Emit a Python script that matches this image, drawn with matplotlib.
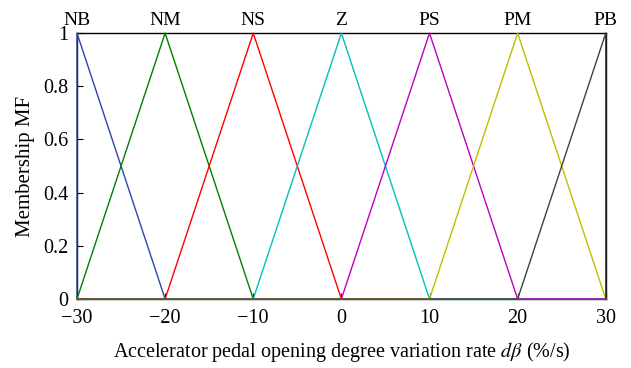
import numpy as np
import matplotlib
matplotlib.use("Agg")
import matplotlib.pyplot as plt

# fuzzy set names and triangle breakpoints (left, peak, right)
names = ["NB", "NM", "NS", "Z", "PS", "PM", "PB"]
lefts = [-30, -30, -20, -10, 0, 10, 20]
peaks = [-30, -20, -10, 0, 10, 20, 30]
rights = [-20, -10, 0, 10, 20, 30, 30]
colors = ["#2a46a6", "#007f00", "#ff0000", "#00bfbf", "#bf00bf", "#bfbf00", "#404040"]

x_ticks = [-30, -20, -10, 0, 10, 20, 30]
y_ticks = [0, 0.2, 0.4, 0.6, 0.8, 1]
y_tick_labels = ["0", "0.2", "0.4", "0.6", "0.8", "1"]

plt.rcParams["font.family"] = ["Liberation Serif", "DejaVu Serif"]
plt.rcParams["mathtext.fontset"] = "stix"

fig = plt.figure(figsize=(6.31, 3.68), dpi=100)
ax = fig.add_axes([0.122, 0.1875, 0.838, 0.7225])

x_min, x_max = x_ticks[0], x_ticks[-1]
for name, a, b, c, col in zip(names, lefts, peaks, rights, colors):
    # whole-range polyline of the triangle MF (zeros outside its support)
    xs = [x_min, a, b, c, x_max]
    ys = [0, 0, 1, 0, 0]
    ax.plot(xs, ys, color=col, lw=1.0, zorder=3, clip_on=False)
    ax.text(b, 1.015, name, ha="center", va="bottom", fontsize=14)

ax.set_xlim(x_min, x_max)
ax.set_ylim(0, 1)
ax.set_xticks(x_ticks)
ax.set_xticklabels([f"{t}".replace("-", "\u2212") for t in x_ticks])
ax.set_yticks(y_ticks)
ax.set_yticklabels(y_tick_labels)
ax.tick_params(direction="in", length=4, labelsize=14.5, top=False, right=False)
ax.tick_params(axis="x", pad=7)
ax.tick_params(axis="y", pad=6)
for s in ax.spines.values():
    s.set_linewidth(1.0)

ax.set_xlabel(r"Accelerator pedal opening degree variation rate $d\beta$ (%/s)", fontsize=14.5, labelpad=9)
ax.set_ylabel("Membership MF", fontsize=15, labelpad=6)

fig.savefig("out.png", dpi=100)
